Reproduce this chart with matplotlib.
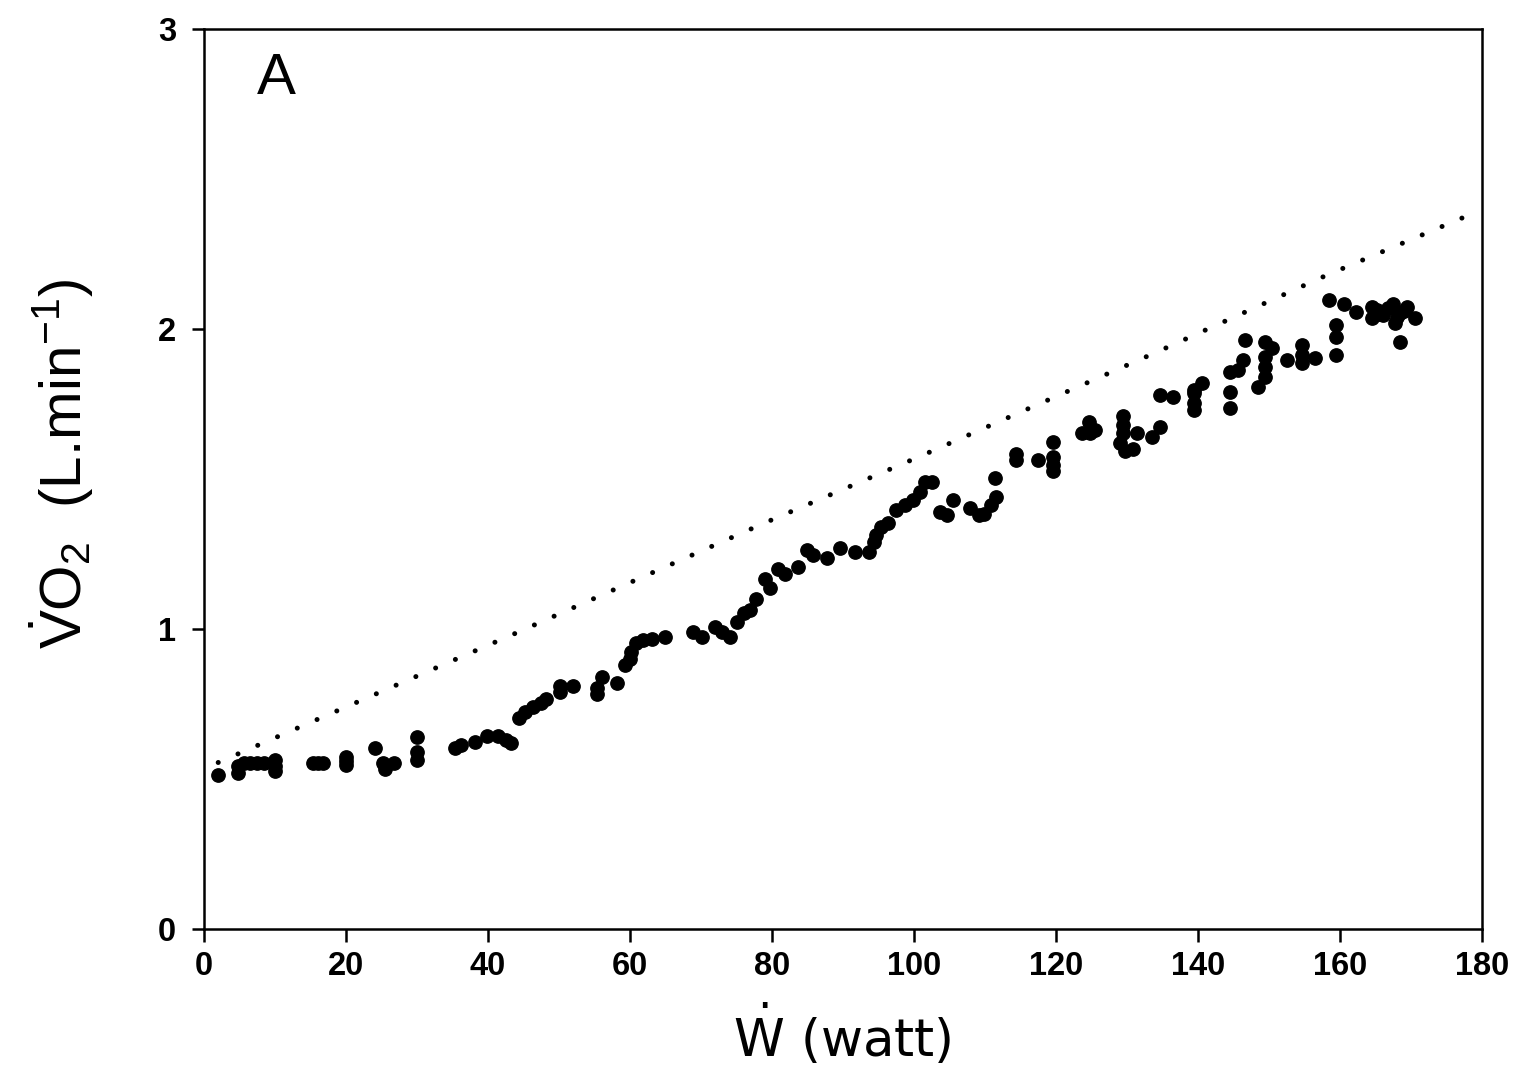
import matplotlib
matplotlib.use("Agg")
import matplotlib.pyplot as plt

plt.rcParams['mathtext.fontset'] = 'custom'
plt.rcParams['mathtext.rm'] = 'Liberation Sans'
plt.rcParams['mathtext.it'] = 'Liberation Sans:italic'
plt.rcParams['mathtext.bf'] = 'Liberation Sans:bold'

# measured data (watt, L/min)
power_w = [2.0, 4.8, 4.8, 5.6, 6.5, 7.5, 8.4, 10.0, 10.0, 10.0,
           15.4, 16.1, 16.8, 20.0, 20.0, 20.0, 24.1, 25.2, 25.5, 26.8,
           30.0, 30.0, 30.0, 35.3, 36.2, 38.2, 39.9, 41.4, 42.6, 43.3,
           44.3, 45.2, 46.3, 47.5, 48.2, 50.1, 50.1, 52.0,
           55.3, 55.3, 56.0, 58.1, 59.3, 60.0, 60.2, 60.9, 61.9, 63.1, 64.9,
           68.9, 70.1, 72.0, 72.9, 74.1, 75.0, 76.0, 76.9, 77.8, 79.0, 79.7,
           80.9, 81.8, 83.7, 84.9, 85.8, 87.7, 89.6, 91.7, 93.6, 94.3, 94.7,
           95.4, 96.4, 97.5, 98.7, 99.9, 100.8, 101.5, 102.5, 103.7, 104.6,
           105.5, 107.9, 109.1, 109.8, 110.9, 111.6, 111.4,
           114.4, 114.4, 117.5, 119.6, 119.6, 119.6, 119.6,
           123.6, 124.6, 125.5, 124.8, 129.5, 129.5, 129.5, 129.0, 129.7, 130.8,
           131.4, 133.5, 134.6, 134.6, 136.5, 139.5, 139.5, 139.5, 139.5, 140.5,
           144.5, 144.5, 144.5, 145.7, 146.4, 146.6, 148.5, 149.4, 149.4, 149.4,
           149.4, 150.4, 152.5, 154.6, 154.6, 154.6, 156.5, 159.5, 159.5, 159.5,
           158.4, 160.5, 162.3, 164.5, 164.5, 165.2, 165.5, 166.1, 166.8, 167.5,
           167.7, 168.0, 168.5, 169.0, 169.4, 170.6, 168.5]
vo2 = [0.513, 0.52, 0.545, 0.555, 0.555, 0.555, 0.555, 0.565, 0.545, 0.527,
       0.554, 0.554, 0.554, 0.575, 0.56, 0.547, 0.602, 0.555, 0.535, 0.553,
       0.64, 0.59, 0.565, 0.605, 0.615, 0.622, 0.643, 0.645, 0.63, 0.62,
       0.705, 0.725, 0.74, 0.755, 0.768, 0.79, 0.81, 0.81,
       0.785, 0.805, 0.84, 0.82, 0.88, 0.90, 0.925, 0.955, 0.963, 0.968, 0.975,
       0.99, 0.975, 1.008, 0.99, 0.975, 1.024, 1.055, 1.063, 1.10, 1.168, 1.136,
       1.20, 1.185, 1.208, 1.263, 1.247, 1.236, 1.269, 1.258, 1.258, 1.29, 1.313,
       1.34, 1.352, 1.397, 1.413, 1.43, 1.458, 1.49, 1.49, 1.391, 1.38,
       1.43, 1.402, 1.38, 1.385, 1.413, 1.441, 1.502,
       1.583, 1.565, 1.563, 1.624, 1.572, 1.548, 1.527,
       1.652, 1.691, 1.663, 1.655, 1.71, 1.68, 1.655, 1.62, 1.595, 1.60,
       1.652, 1.641, 1.674, 1.78, 1.774, 1.797, 1.786, 1.752, 1.73, 1.819,
       1.791, 1.736, 1.858, 1.863, 1.897, 1.963, 1.808, 1.841, 1.874, 1.908,
       1.958, 1.936, 1.897, 1.947, 1.913, 1.886, 1.902, 1.913, 1.974, 2.013,
       2.097, 2.085, 2.058, 2.074, 2.036, 2.063, 2.05, 2.047, 2.07, 2.085,
       2.019, 2.04, 2.052, 2.06, 2.074, 2.036, 1.958]

# dotted reference line
ref_w = [2, 44, 79, 101, 134, 158, 178]
ref_vo2 = [0.555, 0.987, 1.354, 1.577, 1.921, 2.178, 2.378]

x_ticks = [0, 20, 40, 60, 80, 100, 120, 140, 160, 180]
y_ticks = [0, 1, 2, 3]

W, H = 1518, 1082
fig = plt.figure(figsize=(W / 100, H / 100), dpi=100)
ax = fig.add_axes([204 / W, 1 - 929 / H, (1482 - 204) / W, 900 / H])

ax.plot(ref_w, ref_vo2, color='black', linewidth=3.6,
        linestyle=(0, (0.01, 4.3)), dash_capstyle='round')
ax.plot(power_w, vo2, linestyle='none', marker='o', markersize=9.6,
        markerfacecolor='black', markeredgecolor='black')

ax.set_xlim(0, 180)
ax.set_ylim(0, 3)
tick_font = {'family': 'Liberation Sans', 'weight': 'bold', 'size': 23.5}
ax.set_xticks(x_ticks)
ax.set_yticks(y_ticks)
ax.set_xticklabels([str(v) for v in x_ticks], fontdict=tick_font)
ax.set_yticklabels([str(v) for v in y_ticks], fontdict=tick_font)
for s in ax.spines.values():
    s.set_linewidth(1.8)
ax.tick_params(axis='both', direction='out', length=9, width=1.8)
ax.tick_params(axis='x', pad=7)
ax.tick_params(axis='y', pad=11)

ax.text(257 / W, 1 - 94 / H, 'A', transform=fig.transFigure,
        family='Liberation Sans', fontsize=42, ha='left', va='baseline')

fig.text(842 / W, 1 - 1057 / H, r'$\dot{\mathrm{W}}$ (watt)',
         family='DejaVu Sans', math_fontfamily='dejavusans',
         fontsize=37, ha='center', va='baseline')

fig.text(62 / W, 1 - 464 / H, r'$\dot{\mathrm{V}}$O$_2$  (L.min$^{-1}$)',
         family='Liberation Sans', fontsize=42, rotation=90,
         ha='center', va='center')

fig.savefig('out.png', dpi=100)
